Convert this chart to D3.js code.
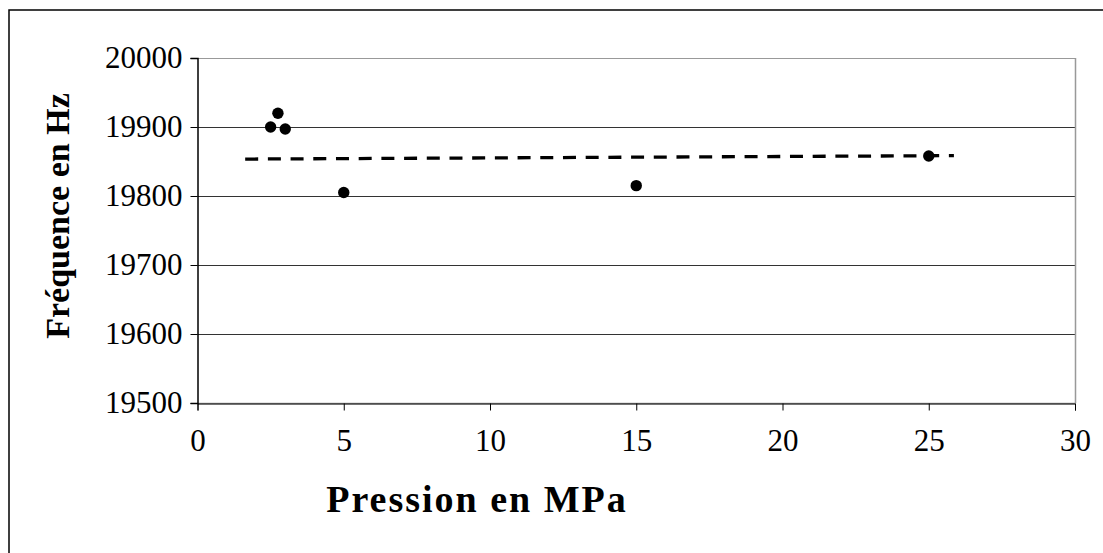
<!DOCTYPE html>
<html><head><meta charset="utf-8">
<script src="https://cdn.jsdelivr.net/npm/d3@7/dist/d3.min.js"></script>
<style>html,body{margin:0;padding:0;background:#fff;}</style>
</head><body>
<svg id="c" width="1103" height="553"></svg>
<script>
const pressure = [2.5, 2.75, 3, 5, 15, 25];
const frequency = [19900, 19920, 19897, 19805, 19815, 19858];
const trendX = [1.63, 25.86];
const trendY = [19853.5, 19858.5];
const xTicks = [0, 5, 10, 15, 20, 25, 30];
const yTicks = [19500, 19600, 19700, 19800, 19900, 20000];
const xTitle = "Pression en MPa";
const yTitle = "Fréquence en Hz";

const svg = d3.select("#c");
const font = "'Liberation Serif','Times New Roman',serif";
const L = 197.5, R = 1075, T = 58, B = 403;
const x = d3.scaleLinear().domain([0, 30]).range([L, R]);
const y = d3.scaleLinear().domain([19500, 20000]).range([B, T]);

// outer chart border
svg.append("rect").attr("x", 9).attr("y", 10).attr("width", 1200).attr("height", 700)
  .attr("fill", "none").attr("stroke", "#000").attr("stroke-width", 1.5);

// gridlines
svg.append("g").selectAll("line").data(yTicks.slice(1)).join("line")
  .attr("x1", L).attr("x2", R).attr("y1", d => Math.round(y(d)) + 0.5).attr("y2", d => Math.round(y(d)) + 0.5)
  .attr("stroke", d => d === 20000 ? "#999" : "#333").attr("stroke-width", 1);
// right plot border
svg.append("line").attr("x1", R + 0.5).attr("x2", R + 0.5).attr("y1", T).attr("y2", B)
  .attr("stroke", "#999").attr("stroke-width", 1.5);
// bottom plot border
svg.append("line").attr("x1", L).attr("x2", R).attr("y1", B + 0.5).attr("y2", B + 0.5)
  .attr("stroke", "#999").attr("stroke-width", 1.5);

// axes
const xAxis = d3.axisBottom(x).tickValues(xTicks).tickSize(7).tickPadding(18).tickFormat(d3.format("d"));
const gx = svg.append("g").attr("transform", `translate(0,${B + 0.5})`).call(xAxis);
gx.select(".domain").attr("stroke", "#000").attr("stroke-width", 1);
gx.selectAll(".tick line").attr("stroke", "#000");
gx.selectAll("text").attr("font-family", font).attr("font-size", 31).attr("fill", "#000");

const yAxis = d3.axisLeft(y).tickValues(yTicks).tickSize(7).tickPadding(8).tickFormat(d3.format("d"));
const gy = svg.append("g").attr("transform", `translate(${L},0)`).call(yAxis);
gy.select(".domain").attr("stroke", "#000").attr("stroke-width", 1.5);
gy.selectAll(".tick line").attr("stroke", "#000");
gy.selectAll("text").attr("font-family", font).attr("font-size", 31).attr("fill", "#000");

// trend line
svg.append("line")
  .attr("x1", x(trendX[0])).attr("y1", y(trendY[0]))
  .attr("x2", x(trendX[1])).attr("y2", y(trendY[1]))
  .attr("stroke", "#000").attr("stroke-width", 3.3).attr("stroke-dasharray", "13,9.7");

// points
svg.append("g").selectAll("circle").data(pressure).join("circle")
  .attr("cx", (d, i) => x(d)).attr("cy", (d, i) => y(frequency[i])).attr("r", 5.7).attr("fill", "#000");

// titles
svg.append("text").attr("x", 477).attr("y", 512).attr("text-anchor", "middle")
  .attr("font-family", font).attr("font-weight", "bold").attr("font-size", 38)
  .attr("letter-spacing", 2).text(xTitle);
svg.append("text").attr("transform", `translate(69,216) rotate(-90)`).attr("text-anchor", "middle")
  .attr("font-family", font).attr("font-weight", "bold").attr("font-size", 34).text(yTitle);
</script>
</body></html>
